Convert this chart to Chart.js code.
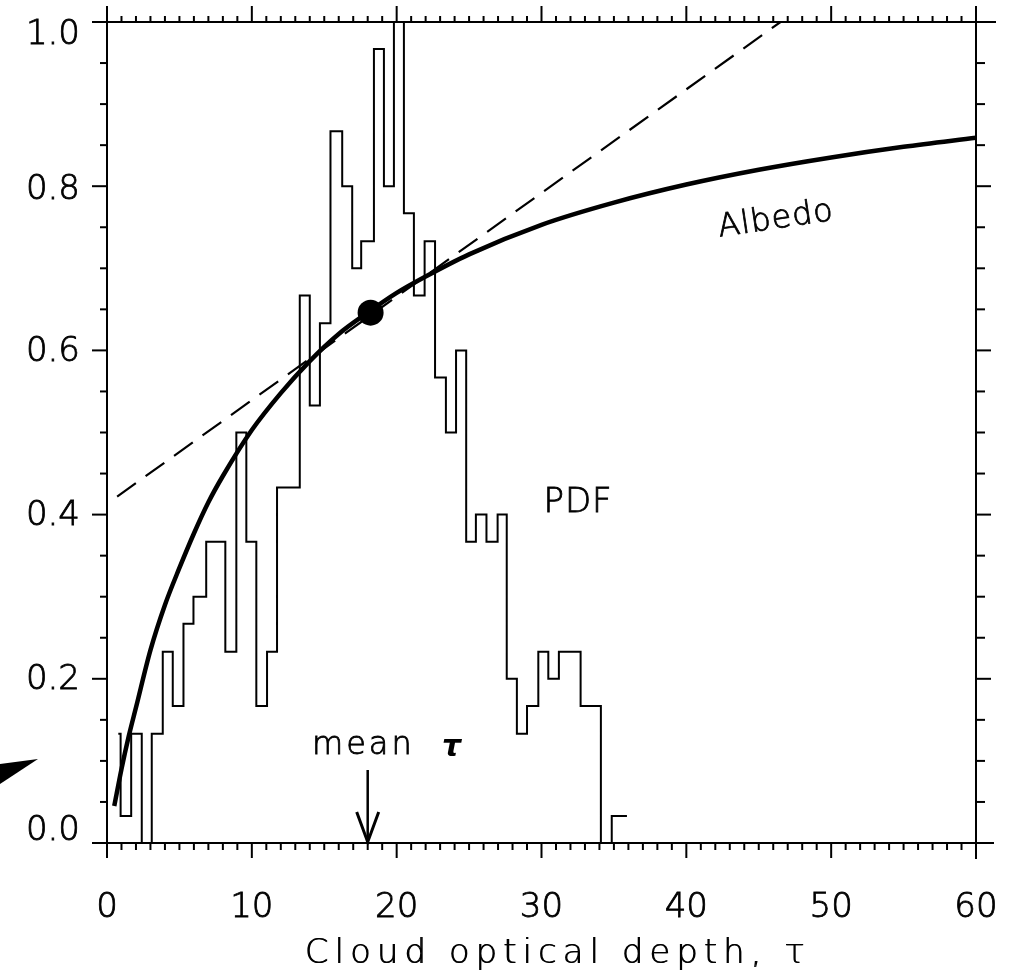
<!DOCTYPE html>
<html><head><meta charset="utf-8">
<script src="https://cdn.jsdelivr.net/npm/chart.js@4"></script>
<style>html,body{margin:0;padding:0;background:#fff}#wrap{width:1013px;height:977px}</style>
</head><body><div id="wrap"><canvas id="c" width="1013" height="977"></canvas></div>
<script>
// ---- data ----
// histogram (PDF): left edge of each bin, and bin height; last edge closes the final bin
const pdfEdges = [0.78, 0.94, 1.67, 2.4, 3.09, 3.85, 4.54, 5.28, 5.97, 6.85, 8.17, 8.93, 9.62, 10.31, 11.05, 11.74,
  13.31, 14.0, 14.7, 15.43, 16.24, 16.93, 17.55, 18.43, 19.12, 19.81, 20.5, 21.19, 21.93, 22.65, 23.4, 24.1, 24.8,
  25.47, 26.2, 26.97, 27.6, 28.3, 29.0, 29.78, 30.47, 31.2, 32.7, 34.1, 34.85, 35.9];
const pdfValues = [0.133, 0.033, 0.133, 0.0, 0.133, 0.233, 0.167, 0.267, 0.300, 0.367, 0.233, 0.500, 0.367, 0.167, 0.233, 0.433,
  0.667, 0.533, 0.633, 0.867, 0.800, 0.700, 0.733, 0.967, 0.800, 1.100, 0.767, 0.667, 0.733, 0.567, 0.500, 0.600, 0.367,
  0.400, 0.367, 0.400, 0.200, 0.133, 0.167, 0.233, 0.200, 0.233, 0.167, 0.0, 0.033];
// albedo curve
const albedoTau    = [0.5, 1, 1.5, 2, 3, 4, 5, 6, 7, 8, 10, 12, 14, 16, 18, 20, 22, 25, 30, 35, 40, 45, 50, 55, 60];
const albedoValues = [0.045, 0.09, 0.13, 0.165, 0.235, 0.29, 0.335, 0.377, 0.415, 0.447, 0.503, 0.548, 0.587, 0.62, 0.646,
  0.67, 0.69, 0.717, 0.753, 0.78, 0.802, 0.82, 0.835, 0.848, 0.859];
// dashed tangent
const tangentTau    = [0.7, 46.5];
const tangentValues = [0.422, 1.0];
// marker at mean
const markerTau   = [18.2];
const markerValue = [0.646];
const meanTau = 18.0;
// axis ticks
const xTickValues = [0, 10, 20, 30, 40, 50, 60];
const yTickValues = [0.0, 0.2, 0.4, 0.6, 0.8, 1.0];
// small vertical nudges of the y labels as printed (0.0 sits higher, 1.0 lower)
const yLabelNudge = [-12, 1, 2, 2, 4, 13];

const FONT = 'DejaVu Sans';

const pdfPoints = pdfEdges.map((e, i) => ({x: e, y: i < pdfValues.length ? pdfValues[i] : pdfValues[pdfValues.length - 1]}));
const albedoPoints = albedoTau.map((t, i) => ({x: t, y: albedoValues[i]}));
const tangentPoints = tangentTau.map((t, i) => ({x: t, y: tangentValues[i]}));
const markerPoints = markerTau.map((t, i) => ({x: t, y: markerValue[i]}));

const nudgeItems = (items) => {
  if (items && !items._nudged) {
    items.forEach((it, i) => {
      const tr = it.options.translation;
      it.options.translation = [tr[0], tr[1] + (yLabelNudge[i] || 0)];
    });
    items._nudged = true;
  }
  return items;
};

const titleStyle = {
  id: 'titleStyle',
  beforeDraw(chart) {
    const s = chart.scales.x;
    if (!s._titlePatched) {
      const orig = s.drawTitle.bind(s);
      s.drawTitle = function () {
        const ctx = this.ctx;
        ctx.save();
        ctx.letterSpacing = '6px';
        ctx.translate(16, 0);
        ctx.shadowColor = '#000';
        ctx.shadowBlur = 0;
        ctx.shadowOffsetX = 0.8;
        orig();
        ctx.restore();
      };
      s._titlePatched = true;
    }
    const ys = chart.scales.y;
    if (!ys._itemsPatched) {
      const origGet = ys.getLabelItems.bind(ys);
      ys.getLabelItems = function (area) { return nudgeItems(origGet(area)); };
      ys._itemsPatched = true;
    }
    ys._labelItems = null;
  }
};

const decor = {
  id: 'decor',
  afterDraw(chart) {
    const {ctx, chartArea: a, scales: {x, y}} = chart;
    ctx.save();
    ctx.strokeStyle = '#000';
    ctx.fillStyle = '#000';
    ctx.lineWidth = 2;
    const line = (x1, y1, x2, y2) => { ctx.beginPath(); ctx.moveTo(x1, y1); ctx.lineTo(x2, y2); ctx.stroke(); };
    // frame (lines slightly overshoot the corners as in the original)
    line(a.left, a.top - 14, a.left, a.bottom + 14);
    line(a.left - 15, a.top, a.right + 20, a.top);
    line(a.left - 15, a.bottom, a.right + 18, a.bottom);
    line(a.right, a.top - 5, a.right, a.bottom + 16);
    // x ticks (minor every 1, major every 10) bottom & top
    for (let t = 0; t <= 60; t++) {
      const px = x.getPixelForValue(t);
      const major = t % 10 === 0;
      line(px, a.bottom, px, a.bottom + (major ? 15 : 7));
      line(px, a.top, px, a.top - (major ? 16 : 6));
    }
    // y ticks (minor every 0.05, major every 0.2) left & right
    for (let k = 0; k <= 20; k++) {
      const py = y.getPixelForValue(k * 0.05);
      const major = k % 4 === 0;
      line(a.left - (major ? 15 : 7), py, a.left, py);
      line(a.right, py, a.right + (major ? 15 : 9), py);
    }
    // mean tau arrow
    const mx = x.getPixelForValue(meanTau);
    const by = y.getPixelForValue(0);
    ctx.lineWidth = 2.5;
    line(mx, by - 73, mx, by);
    ctx.lineWidth = 3;
    ctx.beginPath();
    ctx.moveTo(mx - 11, by - 31); ctx.lineTo(mx, by - 1); ctx.lineTo(mx + 11, by - 31);
    ctx.stroke();
    // labels
    const txt = (s, px, py) => { ctx.fillText(s, px, py); ctx.strokeText(s, px, py); };
    ctx.lineWidth = 0.8;
    ctx.textBaseline = 'middle';
    ctx.textAlign = 'left';
    ctx.font = '200 32px "' + FONT + '"';
    ctx.letterSpacing = '3px';
    txt('mean', 312, 746);
    ctx.letterSpacing = '0px';
    ctx.font = 'italic bold 30px "' + FONT + '"';
    ctx.fillText('τ', 442, 748);
    ctx.font = '200 34px "' + FONT + '"';
    ctx.textAlign = 'center';
    ctx.letterSpacing = '1px';
    txt('PDF', 578, 503);
    ctx.save();
    ctx.translate(776, 220);
    ctx.rotate(-8.5 * Math.PI / 180);
    ctx.font = '200 32px "' + FONT + '"';
    txt('Albedo', 0, 0);
    ctx.restore();
    ctx.letterSpacing = '0px';
    // dark wedge at left edge of the scan
    ctx.beginPath();
    ctx.moveTo(0, 764); ctx.lineTo(38, 759); ctx.lineTo(0, 784); ctx.closePath();
    ctx.fill();
    ctx.restore();
  }
};

new Chart(document.getElementById('c'), {
  type: 'line',
  data: {
    datasets: [
      { label: 'PDF', data: pdfPoints, stepped: 'before', borderColor: '#000', borderWidth: 2, pointRadius: 0, fill: false },
      { label: 'Albedo', data: albedoPoints, borderColor: '#000', borderWidth: 4.5, pointRadius: 0, cubicInterpolationMode: 'monotone', fill: false },
      { label: 'Tangent', data: tangentPoints, borderColor: '#000', borderWidth: 2.2, borderDash: [23, 12], pointRadius: 0, fill: false },
      { label: 'Mean', data: markerPoints, showLine: false, pointRadius: 13, pointBackgroundColor: '#000', pointBorderColor: '#000', pointBorderWidth: 0 }
    ]
  },
  options: {
    responsive: false,
    animation: false,
    devicePixelRatio: 1,
    layout: { padding: { left: 0, right: 37, top: 22, bottom: 0 } },
    plugins: { legend: { display: false }, tooltip: { enabled: false } },
    scales: {
      x: {
        type: 'linear', min: 0, max: 60,
        afterBuildTicks: s => { s.ticks = xTickValues.map(v => ({value: v})); },
        afterFit: s => { s.height = 134; s.paddingLeft = 0; s.paddingRight = 0; s.paddingTop = 0; s.paddingBottom = 0; },
        grid: { display: false, drawTicks: false },
        border: { display: false },
        ticks: { color: '#000', font: { family: FONT, size: 34, weight: '200' }, padding: 45, maxRotation: 0,
                 textStrokeColor: '#000', textStrokeWidth: 0.8, callback: v => String(v) },
        title: { display: true, text: 'Cloud optical depth, τ', color: '#000', font: { family: FONT, size: 34, weight: '200', lineHeight: 1.2 }, padding: { top: 0, bottom: 2 } }
      },
      y: {
        type: 'linear', min: 0, max: 1,
        afterBuildTicks: s => { s.ticks = yTickValues.map(v => ({value: v})); },
        afterFit: s => { s.width = 107; s.paddingLeft = 0; s.paddingRight = 0; s.paddingTop = 0; s.paddingBottom = 0; },
        grid: { display: false, drawTicks: false },
        border: { display: false },
        ticks: { color: '#000', font: { family: FONT, size: 34, weight: '200' }, padding: 27,
                 textStrokeColor: '#000', textStrokeWidth: 0.8, callback: v => v.toFixed(1) }
      }
    }
  },
  plugins: [titleStyle, decor]
});
</script>
</body></html>
